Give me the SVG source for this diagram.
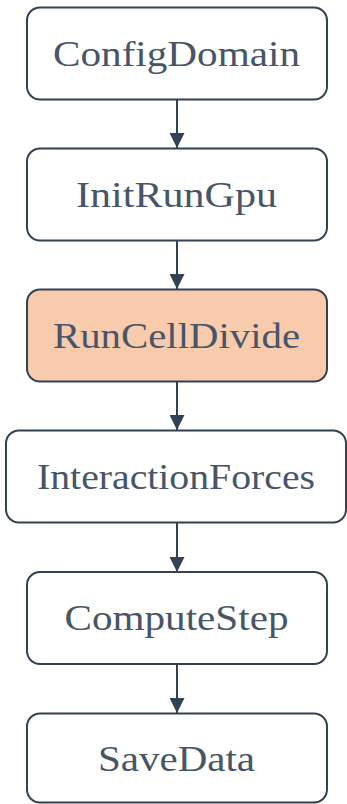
<svg xmlns="http://www.w3.org/2000/svg" width="347" height="804" viewBox="0 0 347 804">
<defs>
<style>
.box{fill:#ffffff;stroke:#334155;stroke-width:2}
.hl{fill:#f8cbad}
.lbl{font-family:"Liberation Serif","Times New Roman",serif;font-size:35px;fill:#475569;text-anchor:middle}
.edge{stroke:#334155;stroke-width:2;fill:none}
</style>
<marker id="arr" markerWidth="15" markerHeight="15" refX="15" refY="7.5" orient="auto" markerUnits="userSpaceOnUse">
<path d="M0,0 L15,7.5 L0,15 Z" fill="#334155"/>
</marker>
</defs>
<rect width="347" height="804" fill="#ffffff"/>
<g id="connectors">
<line class="edge" x1="177" y1="100" x2="177" y2="148" marker-end="url(#arr)"/>
<line class="edge" x1="177" y1="241" x2="177" y2="289" marker-end="url(#arr)"/>
<line class="edge" x1="177" y1="382" x2="177" y2="430" marker-end="url(#arr)"/>
<line class="edge" x1="177" y1="523" x2="177" y2="572" marker-end="url(#arr)"/>
<line class="edge" x1="177" y1="664" x2="177" y2="713" marker-end="url(#arr)"/>
</g>
<g id="ConfigDomain">
<rect class="box" x="27" y="7.5" width="300" height="92" rx="13"/>
<text class="lbl" x="176.5" y="65.5" textLength="247" lengthAdjust="spacingAndGlyphs">ConfigDomain</text>
</g>
<g id="InitRunGpu">
<rect class="box" x="27" y="148.5" width="300" height="92" rx="13"/>
<text class="lbl" x="176.5" y="206.5" textLength="201" lengthAdjust="spacingAndGlyphs">InitRunGpu</text>
</g>
<g id="RunCellDivide">
<rect class="box hl" x="27" y="289.5" width="300" height="92" rx="13"/>
<text class="lbl" x="176.5" y="347.5" textLength="247" lengthAdjust="spacingAndGlyphs">RunCellDivide</text>
</g>
<g id="InteractionForces">
<rect class="box" x="6" y="430.5" width="340" height="92" rx="13"/>
<text class="lbl" x="176" y="489" textLength="278" lengthAdjust="spacingAndGlyphs">InteractionForces</text>
</g>
<g id="ComputeStep">
<rect class="box" x="27" y="572" width="300" height="92" rx="13"/>
<text class="lbl" x="176.5" y="630" textLength="224" lengthAdjust="spacingAndGlyphs">ComputeStep</text>
</g>
<g id="SaveData">
<rect class="box" x="27" y="713.5" width="300" height="89" rx="13"/>
<text class="lbl" x="176.5" y="771" textLength="157" lengthAdjust="spacingAndGlyphs">SaveData</text>
</g>
</svg>
